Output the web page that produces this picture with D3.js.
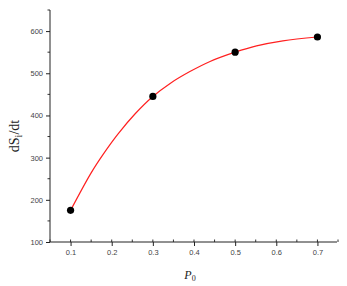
<!DOCTYPE html>
<html>
<head>
<meta charset="utf-8">
<script src="https://cdn.jsdelivr.net/npm/d3@7"></script>
<style>
  body { margin: 0; background: #fff; }
  svg { display: block; }
</style>
</head>
<body>
<svg id="chart" width="347" height="286"></svg>
<script>
// measured points
const p0Values = [0.1, 0.3, 0.5, 0.7];
const rateValues = [175, 445, 550, 586];

// fitted curve
const fitP = [0.1, 0.15, 0.18, 0.216, 0.257, 0.3, 0.342, 0.39, 0.439, 0.5, 0.552, 0.616, 0.7];
const fitV = [175, 264, 309, 357, 404, 445, 476, 504, 528, 550, 565, 577, 586];

const xTicks = [0.1, 0.2, 0.3, 0.4, 0.5, 0.6, 0.7];
const yTicks = [100, 200, 300, 400, 500, 600];

const W = 347, H = 286;
const margin = { left: 50, right: 10, top: 10, bottom: 44 };

const svg = d3.select("#chart");

const x = d3.scaleLinear().domain([0.05, 0.75]).range([margin.left, 338]);
const y = d3.scaleLinear().domain([100, 650]).range([H - margin.bottom, margin.top]);

const points = p0Values.map(function (d, i) { return { p: d, r: rateValues[i] }; });
const fit = fitP.map(function (d, i) { return { p: d, r: fitV[i] }; });

// minor ticks
const xMinor = d3.range(0.05, 0.751, 0.05);
const yMinor = d3.range(150, 651, 100);

const gx = svg.append("g").attr("transform", "translate(0," + y(100) + ")");
gx.selectAll("line.minor").data(xMinor).join("line")
    .attr("class", "minor")
    .attr("x1", function (d) { return x(d); })
    .attr("x2", function (d) { return x(d); })
    .attr("y1", 0).attr("y2", -2.5)
    .attr("stroke", "#333");
gx.call(d3.axisBottom(x).tickValues(xTicks).tickSize(4).tickPadding(4).tickFormat(d3.format(".1f")))
    .call(function (g) {
        g.select(".domain").attr("d", "M" + x(0.05) + ",0H337").attr("stroke", "#222");
        g.selectAll(".tick line").attr("stroke", "#222");
        g.selectAll(".tick text").attr("font-family", "Liberation Sans, Arial, sans-serif")
            .attr("font-size", "7.5px").attr("fill", "#444");
    });

const gy = svg.append("g").attr("transform", "translate(" + x(0.05) + ",0)");
gy.selectAll("line.minor").data(yMinor).join("line")
    .attr("class", "minor")
    .attr("y1", function (d) { return y(d); })
    .attr("y2", function (d) { return y(d); })
    .attr("x1", 0).attr("x2", -2.5)
    .attr("stroke", "#333");
gy.call(d3.axisLeft(y).tickValues(yTicks).tickSize(4).tickPadding(3))
    .call(function (g) {
        g.select(".domain").attr("d", "M0," + y(650) + "V" + y(100)).attr("stroke", "#222");
        g.selectAll(".tick line").attr("stroke", "#222");
        g.selectAll(".tick text").attr("font-family", "Liberation Sans, Arial, sans-serif")
            .attr("font-size", "7.5px").attr("fill", "#444");
    });

// fitted curve
const line = d3.line()
    .x(function (d) { return x(d.p); })
    .y(function (d) { return y(d.r); })
    .curve(d3.curveCatmullRom.alpha(0.5));

svg.append("path")
    .datum(fit)
    .attr("d", line)
    .attr("fill", "none")
    .attr("stroke", "#ff2020")
    .attr("stroke-width", 1.2);

svg.selectAll("circle.pt").data(points).join("circle")
    .attr("class", "pt")
    .attr("cx", function (d) { return x(d.p); })
    .attr("cy", function (d) { return y(d.r); })
    .attr("r", 3.6)
    .attr("fill", "#000");

// axis titles
const yt = svg.append("text")
    .attr("transform", "translate(19,136) rotate(-90)")
    .attr("text-anchor", "middle")
    .attr("font-family", "Liberation Serif, Times New Roman, serif")
    .attr("font-size", "14px")
    .attr("fill", "#222");
yt.append("tspan").text("dS");
yt.append("tspan").attr("font-size", "10px").attr("dy", 3).text("i");
yt.append("tspan").attr("dy", -3).text("/dt");

const xt = svg.append("text")
    .attr("x", 190).attr("y", 279)
    .attr("text-anchor", "middle")
    .attr("font-family", "Liberation Serif, Times New Roman, serif")
    .attr("font-size", "12px")
    .attr("fill", "#222");
xt.append("tspan").attr("font-style", "italic").text("P");
xt.append("tspan").attr("font-size", "8px").attr("dy", 2).text("0");
</script>
</body>
</html>
